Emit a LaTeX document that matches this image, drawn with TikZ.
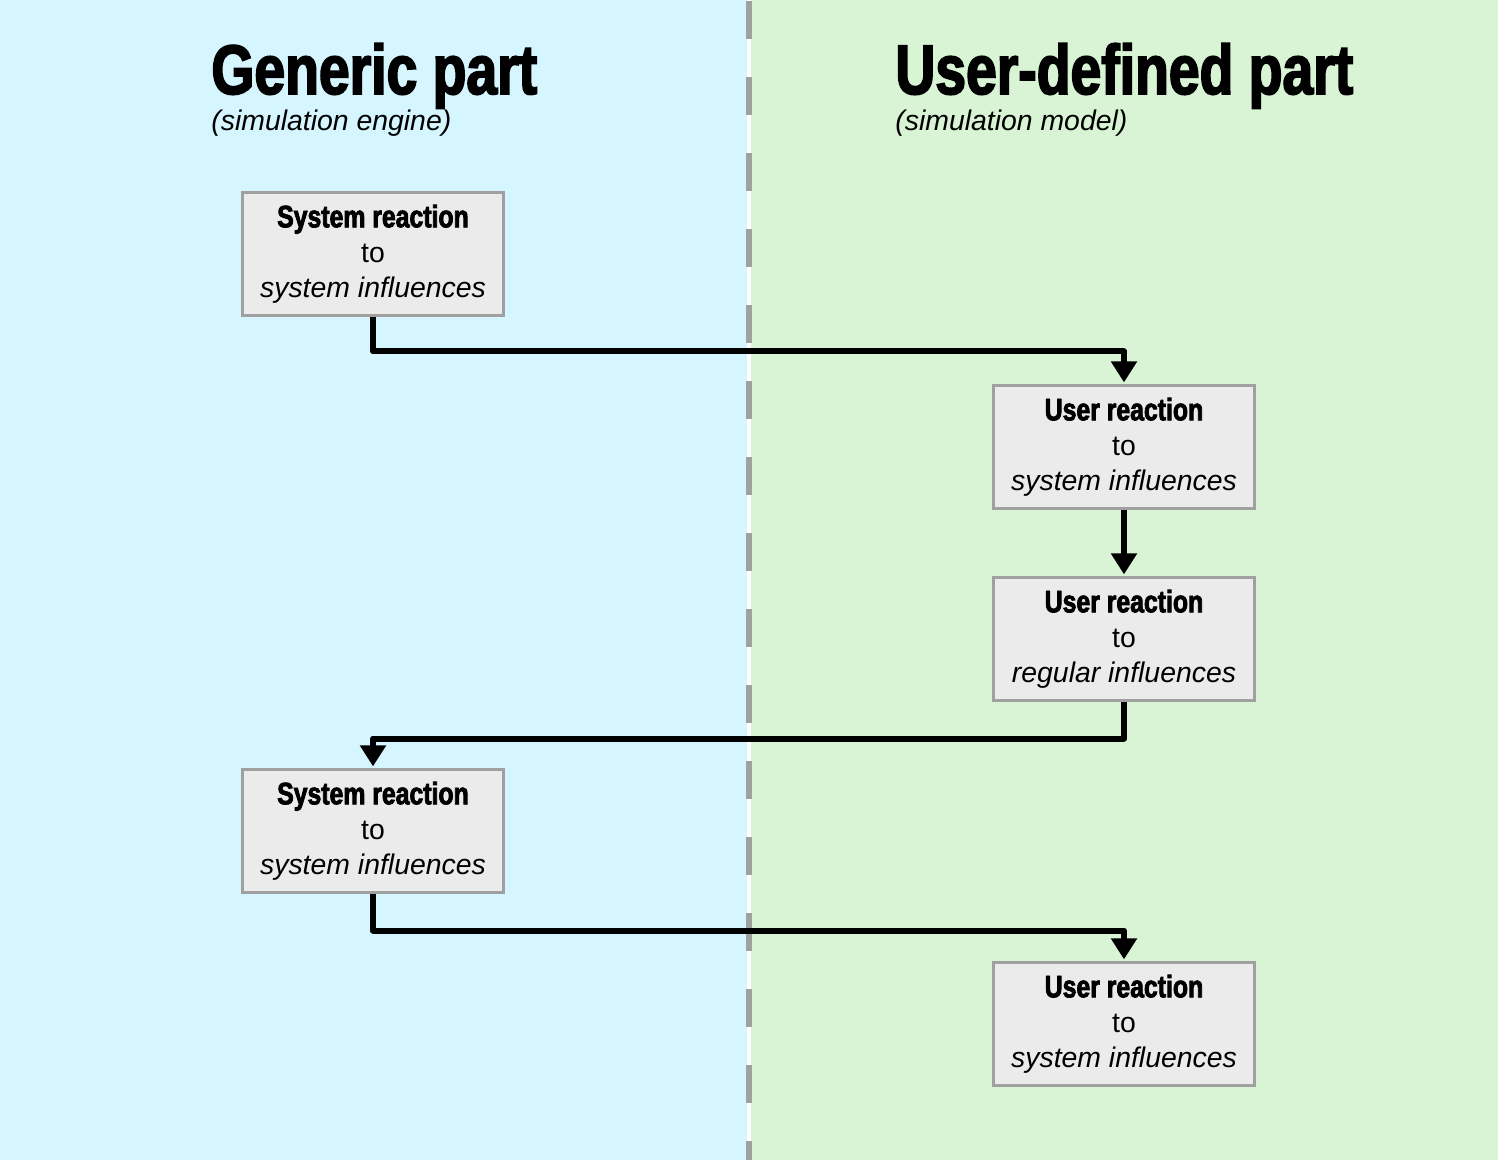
\documentclass[tikz,border=0pt]{standalone}
\usepackage{fontspec}
\setmainfont{Liberation Sans}
\newfontfamily\hdrfont[FakeStretch=0.8,FakeBold=2.5]{Liberation Sans}
\newfontfamily\ttlfont[FakeStretch=0.79,FakeBold=2.5]{Liberation Sans}
\usetikzlibrary{arrows.meta,positioning,calc}
\definecolor{engine}{HTML}{D5F5FF}
\definecolor{model}{HTML}{D8F4D5}
\definecolor{boxfill}{HTML}{EBEBEB}
\definecolor{rim}{HTML}{A0A0A0}
\newcommand{\hdr}[1]{{\hdrfont\bfseries\fontsize{15.5}{17.5}\selectfont #1}}
\tikzset{stage/.style={draw=rim,fill=boxfill,line width=1.5pt,minimum width=130.5pt,minimum height=61.5pt,
    align=center,inner sep=0pt,font=\fontsize{14.2}{17.5}\selectfont},
  flow/.style={line width=3pt,line join=round,-{Triangle[width=12.5pt,length=10.5pt]},shorten >=0.8pt},
  title/.style={anchor=base west,inner sep=0pt,font=\ttlfont\bfseries\fontsize{35}{40}\selectfont},
  subtitle/.style={anchor=base west,inner sep=0pt,font=\fontsize{14.2}{17}\selectfont\itshape}}
\begin{document}
\begin{tikzpicture}[x=.5pt,y=-.5pt]
\useasboundingbox (0,0) rectangle (1498,1160);
\fill[white] (0,0) rectangle (1498,1160);
\fill[engine] (0,0) rectangle (747,1160);
\fill[model] (751,0) rectangle (1498,1160);
\draw[rim,line width=3pt,dash pattern=on 19pt off 19pt] (749,1)--(749,1160);
\node[title] (genT) at (211,94) {Generic part};
\node[subtitle] (genS) at (211,131) {(simulation engine)};
\node[title] (usrT) at (895,94) {User-defined part};
\node[subtitle] (usrS) at (895,131) {(simulation model)};
\node[stage] (sysA) at (373,254) {\hdr{System reaction}\\to\\\textit{system influences}};
\node[stage] (usrA) at (1124,447) {\hdr{User reaction}\\to\\\textit{system influences}};
\node[stage] (usrB) at (1124,639) {\hdr{User reaction}\\to\\\textit{regular influences}};
\node[stage] (sysB) at (373,831) {\hdr{System reaction}\\to\\\textit{system influences}};
\node[stage] (usrC) at (1124,1024) {\hdr{User reaction}\\to\\\textit{system influences}};
\draw[flow] (sysA.south) -- ++(0,34.5) -| (usrA.north);
\draw[flow] (usrA.south) -- (usrB.north);
\draw[flow] (usrB.south) -- ++(0,36.5) -| (sysB.north);
\draw[flow] (sysB.south) -- ++(0,36.5) -| (usrC.north);
\end{tikzpicture}
\end{document}
